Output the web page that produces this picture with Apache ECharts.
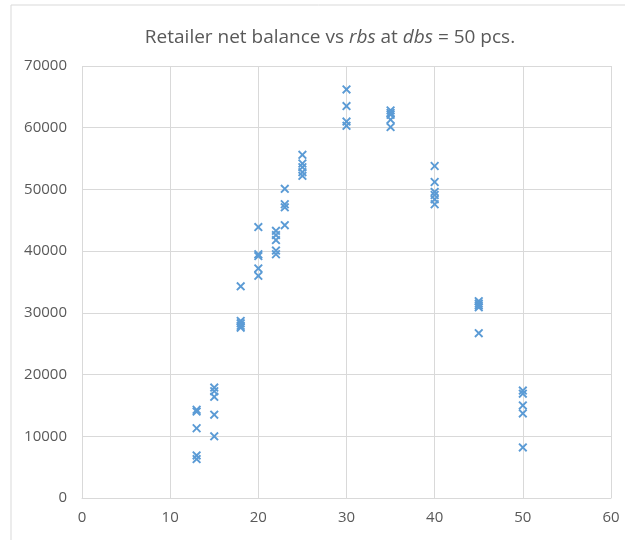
<!DOCTYPE html>
<html>
<head>
<meta charset="utf-8">
<script src="https://cdn.jsdelivr.net/npm/echarts@6/dist/echarts.min.js"></script>
<style>
  html, body { margin: 0; padding: 0; background: #fff; }
  #chart { width: 625px; height: 540px; }
</style>
</head>
<body>
<div id="chart"></div>
<script>
// rbs values (x) and the retailer net balance readings for each one
const rbsLevels = [13, 15, 18, 20, 22, 23, 25, 30, 35, 40, 45, 50];
const balances = [
  [14300, 14000, 11300, 6900, 6300],
  [17900, 17300, 16400, 13500, 10000],
  [34300, 28700, 28300, 27900, 27600],
  [43900, 39500, 39200, 37200, 36000],
  [43300, 42600, 41800, 40100, 39500],
  [50100, 47600, 47100, 44200],
  [55600, 54200, 53600, 52800, 52200],
  [66200, 63500, 61000, 60300],
  [62800, 62400, 62100, 61300, 60100],
  [53800, 51200, 49600, 49100, 48400, 47600],
  [31900, 31500, 31200, 30900, 26700],
  [17400, 16900, 15000, 13700, 8200]
];
const xTicks = [0, 10, 20, 30, 40, 50, 60];
const yTicks = [0, 10000, 20000, 30000, 40000, 50000, 60000, 70000];

const points = [];
rbsLevels.forEach((x, i) => {
  balances[i].forEach(v => points.push([x, v]));
});

const textColor = '#595959';
const gridColor = '#d9d9d9';
const crossPath = 'path://M0,1.5L1.5,0L5,3.5L8.5,0L10,1.5L6.5,5L10,8.5L8.5,10L5,6.5L1.5,10L0,8.5L3.5,5Z';

const chart = echarts.init(document.getElementById('chart'));
const option = {
  backgroundColor: '#fff',
  animation: false,
  title: {
    text: 'Retailer net balance vs {i|rbs} at {i|dbs} = 50 pcs.',
    left: 325,
    top: 23,
    textAlign: 'center',
    textStyle: {
      color: textColor,
      fontSize: 19,
      fontWeight: 'normal',
      fontFamily: 'Open Sans',
      rich: {
        i: { fontStyle: 'italic', fontSize: 19, color: textColor, fontFamily: 'Open Sans' }
      }
    }
  },
  graphic: [{
    type: 'rect',
    shape: { x: 11, y: 5, width: 640, height: 560 },
    style: { fill: 'none', stroke: gridColor, lineWidth: 1 },
    silent: true
  }],
  grid: { left: 82, right: 14, top: 66, bottom: 42 },
  xAxis: {
    type: 'value',
    min: xTicks[0],
    max: xTicks[xTicks.length - 1],
    interval: 10,
    axisLine: { show: true, lineStyle: { color: gridColor } },
    axisTick: { show: false },
    splitLine: { show: true, lineStyle: { color: gridColor } },
    axisLabel: { color: textColor, fontSize: 15, fontFamily: 'Open Sans', margin: 12 }
  },
  yAxis: {
    type: 'value',
    min: yTicks[0],
    max: yTicks[yTicks.length - 1],
    interval: 10000,
    axisLine: { show: false },
    axisTick: { show: false },
    splitLine: { show: true, lineStyle: { color: gridColor } },
    axisLabel: {
      color: textColor, fontSize: 15, fontFamily: 'Open Sans', margin: 15,
      formatter: v => String(v)
    }
  },
  series: [{
    type: 'scatter',
    data: points,
    symbol: crossPath,
    symbolSize: 9,
    itemStyle: { color: '#5b9bd5', opacity: 1 }
  }]
};
chart.setOption(option);
</script>
</body>
</html>
